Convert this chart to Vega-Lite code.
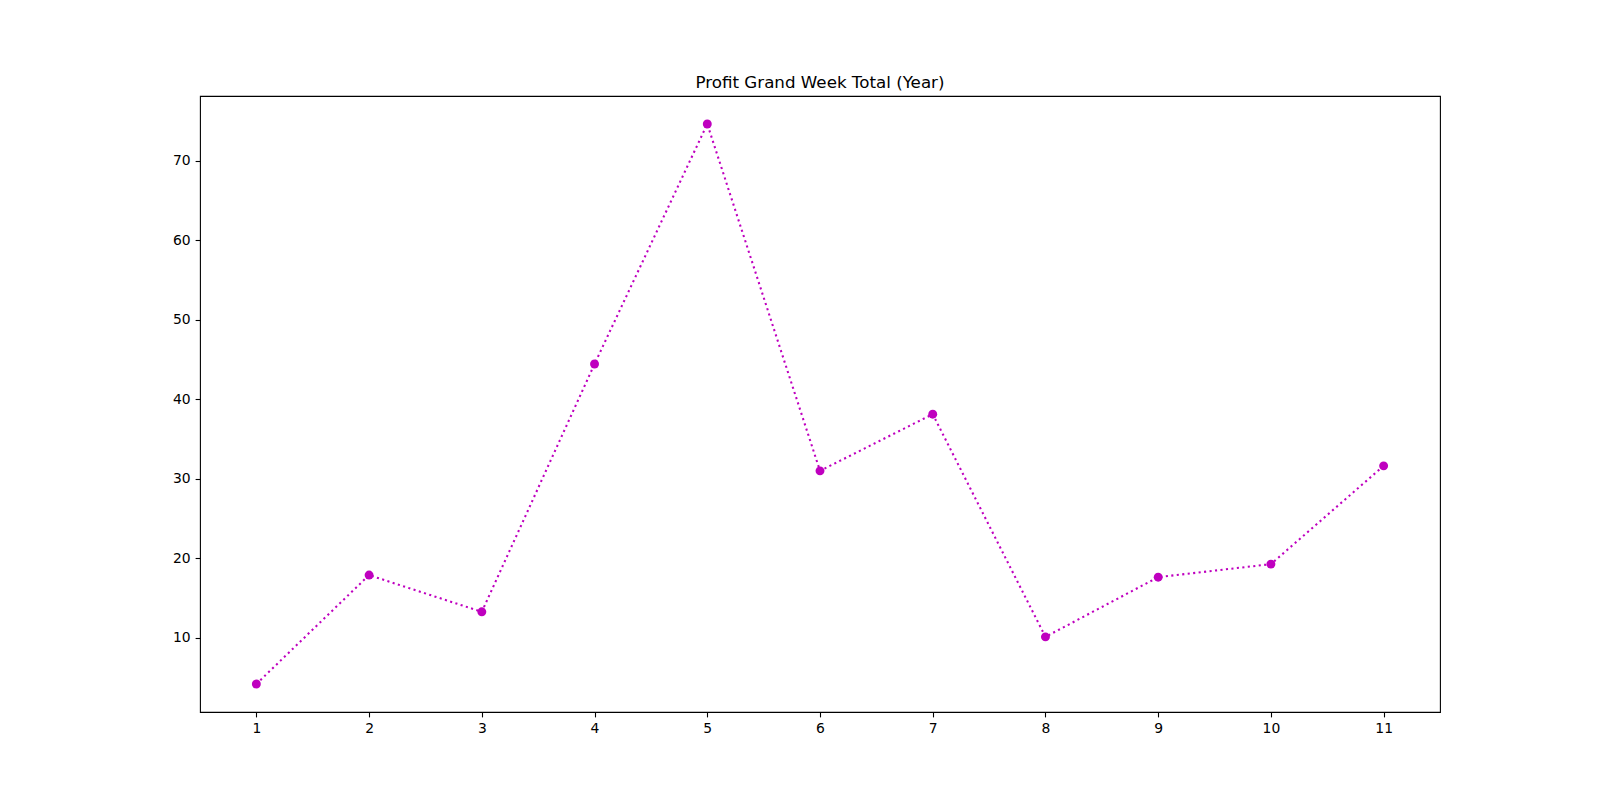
{
  "$schema": "https://vega.github.io/schema/vega-lite/v6.json",
  "width": 1240,
  "height": 616,
  "autosize": {"type": "none"},
  "padding": {"left": 200, "top": 96, "right": 160, "bottom": 88},
  "background": "white",
  "title": {
    "text": "Profit Grand Week Total (Year)",
    "font": "DejaVu Sans",
    "fontSize": 16.7,
    "fontWeight": "normal",
    "color": "black",
    "offset": 4,
    "anchor": "middle"
  },
  "config": {
    "view": {"stroke": "black", "strokeWidth": 1.1},
    "axis": {
      "grid": false,
      "domain": false,
      "ticks": true,
      "tickColor": "black",
      "tickWidth": 1.1,
      "tickSize": 4.9,
      "labelFont": "DejaVu Sans",
      "labelFontSize": 13.9,
      "labelColor": "black",
      "labelPadding": 4.9,
      "title": null
    }
  },
  "data": {
    "values": [
      {"week": 1, "profit": 4.16},
      {"week": 2, "profit": 17.86},
      {"week": 3, "profit": 13.24},
      {"week": 4, "profit": 44.41},
      {"week": 5, "profit": 74.6},
      {"week": 6, "profit": 30.97},
      {"week": 7, "profit": 38.1},
      {"week": 8, "profit": 10.09},
      {"week": 9, "profit": 17.6},
      {"week": 10, "profit": 19.24},
      {"week": 11, "profit": 31.6}
    ]
  },
  "encoding": {
    "x": {
      "field": "week",
      "type": "quantitative",
      "scale": {"domain": [0.5, 11.5], "nice": false, "zero": false},
      "axis": {"values": [1, 2, 3, 4, 5, 6, 7, 8, 9, 10, 11], "format": "d", "labelFlush": false}
    },
    "y": {
      "field": "profit",
      "type": "quantitative",
      "scale": {"domain": [0.64, 78.12], "nice": false, "zero": false},
      "axis": {"values": [10, 20, 30, 40, 50, 60, 70], "format": "d", "labelFlush": false}
    }
  },
  "layer": [
    {
      "mark": {
        "type": "line",
        "color": "#bf00bf",
        "strokeWidth": 2.08,
        "strokeDash": [2.1, 3.4],
        "strokeCap": "butt"
      }
    },
    {
      "mark": {
        "type": "point",
        "shape": "circle",
        "filled": true,
        "opacity": 1,
        "color": "#bf00bf",
        "size": 80
      }
    }
  ]
}
